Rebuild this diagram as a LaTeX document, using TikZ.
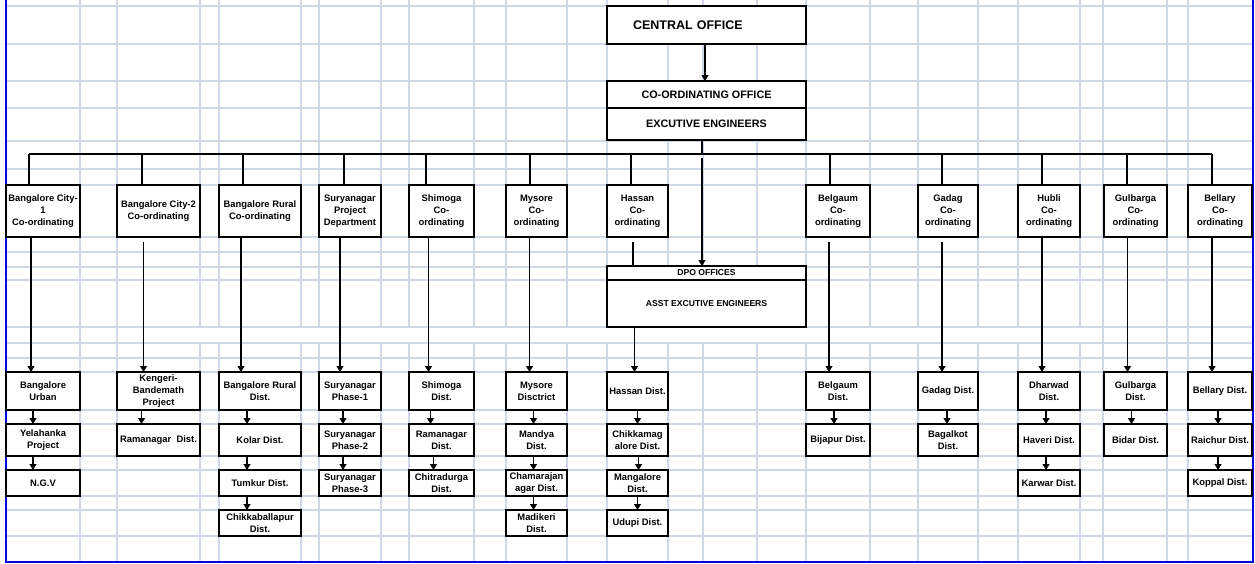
\documentclass[tikz,border=0pt]{standalone}
\usepackage{fontspec}
\setmainfont{Liberation Sans}
\usetikzlibrary{arrows.meta}
\usetikzlibrary{positioning}
\definecolor{gridgray}{RGB}{208,215,229}
\definecolor{sheetblue}{RGB}{0,0,230}
\tikzset{office/.style={draw,fill=white,line width=1.5pt,inner sep=0pt,outer sep=0pt,align=center,font=\fontsize{9.4}{12}\selectfont\bfseries}}
\tikzset{head/.style={office,minimum width=199pt}}
\tikzset{col/.style={minimum width=#1pt}}
\tikzset{lvl2/.style={minimum height=52pt},lvl3/.style={minimum height=38pt},lvl4/.style={minimum height=32pt},lvl5/.style={minimum height=26pt}}

\begin{document}
\begin{tikzpicture}[
x = 1pt, y = -1pt, % pixel grid, y downwards
> = {Triangle[length=6pt,width=7pt]}, % arrow head style
link/.style = {line width=1.1pt},
bus/.style = {line width=1.5pt}
]
\useasboundingbox (0,0) rectangle (1255,563);

% sheet grid
\foreach \gy in {6,44,81,108,141,169,185,237,252,267,280,327,343,358,372,410,424,456,470,496,510,536}
  \draw[gridgray,line width=1.2pt] (6,\gy) -- (1252,\gy);
\foreach \gx in {80,117,1103,1167,1188}
  \draw[gridgray,line width=1.2pt] (\gx,0) -- (\gx,562);
\foreach \gx in {200,219,301,319,381,409,474,506,567,607,668,703,757,806,870,918,978,1018,1080}{
  \draw[gridgray,line width=1.2pt] (\gx,0) -- (\gx,327);
  \draw[gridgray,line width=1.2pt] (\gx,343) -- (\gx,562);
}
\draw[sheetblue,line width=2pt] (6,0) -- (6,562) -- (1253,562) -- (1253,0);

% head offices
\node[head,minimum height=38pt,font=\fontsize{12.5}{15}\selectfont\bfseries,inner xsep=26pt,text width=147pt,align=left] (central) at (706.5,25) {CENTRAL OFFICE};
\node[head,minimum height=27pt,font=\fontsize{10.8}{13}\selectfont\bfseries] (coord) at (706.5,94.5) {CO-ORDINATING OFFICE};
\node[head,minimum height=32pt,font=\fontsize{10.8}{13}\selectfont\bfseries,below=0pt of coord] (exe) {EXCUTIVE ENGINEERS};
\node[head,minimum height=14pt,font=\fontsize{8.6}{10}\selectfont\bfseries] (dpo) at (706.5,273) {DPO OFFICES};
\node[head,minimum height=47pt,font=\fontsize{8.6}{10}\selectfont\bfseries,below=0pt of dpo] (asst) {ASST EXCUTIVE ENGINEERS};
\coordinate (bus) at (0,154);

% co-ordinating offices
\node[office,lvl2,col=74] (blrc1) at (43,211) {Bangalore City-\\1\\Co-ordinating};
\node[office,lvl2,col=83] (blrc2) at (158.5,211) {Bangalore City-2\\Co-ordinating};
\node[office,lvl2,col=82] (blrr) at (260,211) {Bangalore Rural\\Co-ordinating};
\node[office,lvl2,col=62] (surya) at (350,211) {Suryanagar\\Project\\Department};
\node[office,lvl2,col=65] (shim) at (441.5,211) {Shimoga\\Co-\\ordinating};
\node[office,lvl2,col=61] (mys) at (536.5,211) {Mysore\\Co-\\ordinating};
\node[office,lvl2,col=61] (has) at (637.5,211) {Hassan\\Co-\\ordinating};
\node[office,lvl2,col=64] (bel) at (838,211) {Belgaum\\Co-\\ordinating};
\node[office,lvl2,col=60] (gad) at (948,211) {Gadag\\Co-\\ordinating};
\node[office,lvl2,col=62] (hub) at (1049,211) {Hubli\\Co-\\ordinating};
\node[office,lvl2,col=63] (gul) at (1135.5,211) {Gulbarga\\Co-\\ordinating};
\node[office,lvl2,col=64] (bell) at (1220,211) {Bellary\\Co-\\ordinating};

% districts
\node[office,lvl3,col=74,below=135pt of blrc1] (blru) {Bangalore\\Urban};
\node[office,lvl4,col=74,below=14pt of blru] (yela) {Yelahanka\\Project};
\node[office,lvl5,col=74,below=14pt of yela] (ngv) {N.G.V};

\node[office,lvl3,col=83,below=135pt of blrc2] (kengeri) {Kengeri-\\Bandemath\\Project};
\node[office,lvl4,col=83,below=14pt of kengeri] (raman) {Ramanagar~~Dist.};

\node[office,lvl3,col=82,below=135pt of blrr] (blrrd) {Bangalore Rural\\Dist.};
\node[office,lvl4,col=82,below=14pt of blrrd] (kolar) {Kolar Dist.};
\node[office,lvl5,col=82,below=14pt of kolar] (tumkur) {Tumkur Dist.};
\node[office,lvl5,col=82,below=14pt of tumkur] (chikb) {Chikkaballapur\\Dist.};

\node[office,lvl3,col=62,below=135pt of surya] (surya1) {Suryanagar\\Phase-1};
\node[office,lvl4,col=62,below=14pt of surya1] (surya2) {Suryanagar\\Phase-2};
\node[office,lvl5,col=62,below=14pt of surya2] (surya3) {Suryanagar\\Phase-3};

\node[office,lvl3,col=65,below=135pt of shim] (shimd) {Shimoga\\Dist.};
\node[office,lvl4,col=65,below=14pt of shimd] (ramand) {Ramanagar\\Dist.};
\node[office,lvl5,col=65,below=14pt of ramand] (chitra) {Chitradurga\\Dist.};

\node[office,lvl3,col=61,below=135pt of mys] (mysd) {Mysore\\Disctrict};
\node[office,lvl4,col=61,below=14pt of mysd] (mandya) {Mandya\\Dist.};
\node[office,lvl5,col=61,below=14pt of mandya] (chama) {Chamarajan\\agar Dist.};
\node[office,lvl5,col=61,below=14pt of chama] (madik) {Madikeri\\Dist.};

\node[office,lvl3,col=61,below=135pt of has] (hasd) {Hassan Dist.};
\node[office,lvl4,col=61,below=14pt of hasd] (chikm) {Chikkamag\\alore Dist.};
\node[office,lvl5,col=61,below=14pt of chikm] (mang) {Mangalore\\Dist.};
\node[office,lvl5,col=61,below=14pt of mang] (udupi) {Udupi Dist.};

\node[office,lvl3,col=64,below=135pt of bel] (beld) {Belgaum\\Dist.};
\node[office,lvl4,col=64,below=14pt of beld] (bija) {Bijapur Dist.};

\node[office,lvl3,col=60,below=135pt of gad] (gadd) {Gadag Dist.};
\node[office,lvl4,col=60,below=14pt of gadd] (bagal) {Bagalkot\\Dist.};

\node[office,lvl3,col=62,below=135pt of hub] (dhar) {Dharwad\\Dist.};
\node[office,lvl4,col=62,below=14pt of dhar] (haveri) {Haveri Dist.};
\node[office,lvl5,col=62,below=14pt of haveri] (karwar) {Karwar Dist.};

\node[office,lvl3,col=63,below=135pt of gul] (guld) {Gulbarga\\Dist.};
\node[office,lvl4,col=63,below=14pt of guld] (bidar) {Bidar Dist.};

\node[office,lvl3,col=64,below=135pt of bell] (belld) {Bellary Dist.};
\node[office,lvl4,col=64,below=14pt of belld] (raich) {Raichur Dist.};
\node[office,lvl5,col=64,below=14pt of raich] (koppal) {Koppal Dist.};

% head connectors
\draw[link,->] ([xshift=-1.5]central.south) -- ([xshift=-1.5]coord.north);
\draw[link] ([xshift=-4.5]exe.south) -- ([xshift=-4.5]exe.south |- bus);
\draw[link,->] ([xshift=-4.5]exe.south |- bus) ++(0,4) -- ([xshift=-4.5]dpo.north);
\draw[bus] ([xshift=-14]blrc1.north |- bus) -- ([xshift=-8]bell.north |- bus);
\foreach \n/\d in {blrc1/-14,blrc2/-16.5,blrr/-17,surya/-6,shim/-15.5,mys/-6.5,has/-6.5,bel/-8,gad/-6,hub/-7,gul/-8.5,bell/-8}
  \draw[link] ([xshift=\d]\n.north) -- ([xshift=\d]\n.north |- bus);

% long drops
\foreach \a/\b/\d/\g in {blrc1/blru/-12/0,blrc2/kengeri/-15/5,blrr/blrrd/-19/0,surya/surya1/-10/0,shim/shimd/-13/0,mys/mysd/-7/0,bel/beld/-9/5,gad/gadd/-6/5,hub/dhar/-7/0,gul/guld/-8/0,bell/belld/-8/0}
  \draw[link,->] ([xshift=\d]\a.south) ++(0,\g) -- ([xshift=\d]\b.north);
\draw[link] ([xshift=-4.5]has.south) ++(0,5) -- ([xshift=-4.5]has.south |- dpo.north);
\draw[link,->] ([xshift=-3]hasd.north |- asst.south) -- ([xshift=-3]hasd.north);

% district chains
\foreach \a/\b/\d in {blru/yela/-10,yela/ngv/-10,kengeri/raman/-17,blrrd/kolar/-13,kolar/tumkur/-13,tumkur/chikb/-13,surya1/surya2/-7,surya2/surya3/-7,shimd/ramand/-11,ramand/chitra/-8,mysd/mandya/-3,mandya/chama/-3,chama/madik/-3,hasd/chikm/0,chikm/mang/1,mang/udupi/0,beld/bija/-4,gadd/bagal/-1,dhar/haveri/-3,haveri/karwar/-3,guld/bidar/-4,belld/raich/-2,raich/koppal/-2}
  \draw[link,->] ([xshift=\d]\a.south) -- ([xshift=\d]\b.north);
\end{tikzpicture}
\end{document}
